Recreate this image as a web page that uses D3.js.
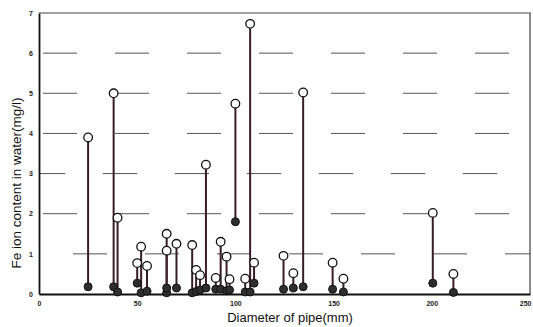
<!DOCTYPE html>
<html>
<head>
<meta charset="utf-8">
<script src="https://cdn.jsdelivr.net/npm/d3@7"></script>
<style>
  body { margin: 0; background: #fff; }
  text { font-family: "Liberation Sans", Arial, sans-serif; }
</style>
</head>
<body>
<div id="chart"></div>
<script>
// pipe diameter (mm) and Fe ion content (mg/l): high = open circle, low = filled circle
const diameters = [25, 38, 40, 50, 52, 55, 65, 65, 70, 78, 80, 82, 85, 90, 92.5, 95.5, 97, 100, 105, 107.5, 109.5, 124.5, 129.5, 134.5, 149.5, 155, 200.5, 211];
const highValues = [3.9, 5.0, 1.9, 0.77, 1.18, 0.7, 1.5, 1.08, 1.25, 1.22, 0.6, 0.47, 3.22, 0.4, 1.3, 0.93, 0.37, 4.74, 0.38, 6.73, 0.78, 0.95, 0.52, 5.02, 0.78, 0.38, 2.02, 0.5];
const lowValues = [0.18, 0.18, 0.05, 0.27, 0.03, 0.07, 0.03, 0.15, 0.15, 0.03, 0.06, 0.1, 0.15, 0.12, 0.12, 0.08, 0.1, 1.8, 0.05, 0.05, 0.27, 0.12, 0.15, 0.18, 0.12, 0.05, 0.27, 0.04];
const xTicks = [0, 50, 100, 150, 200, 250];
const yTicks = [0, 1, 2, 3, 4, 5, 6, 7];

const margin = { top: 13, right: 2, bottom: 33, left: 39 },
  width = 533 - margin.left - margin.right,
  height = 327 - margin.top - margin.bottom;

const svg = d3
  .select("#chart")
  .append("svg")
  .attr("width", 533)
  .attr("height", 327);

const g = svg
  .append("g")
  .attr("transform", "translate(" + margin.left + "," + margin.top + ")");

const x = d3.scaleLinear().domain([0, 250]).range([0, width - 1]);
const y = d3.scaleLinear().domain([0, 7]).range([height, 0]);

// dashed grid lines
g.selectAll(".grid")
  .data(yTicks.filter((t) => t > 0 && t < 7))
  .enter()
  .append("line")
  .attr("class", "grid")
  .attr("x1", 0)
  .attr("x2", width)
  .attr("y1", (d) => y(d))
  .attr("y2", (d) => y(d))
  .attr("stroke", "#555")
  .attr("stroke-width", 1)
  .attr("stroke-dasharray", "34,38")
  .attr("stroke-dashoffset", (d) => (d === 1 ? 38 : d === 3 ? 8 : -4));

// frame
g.append("line")
  .attr("x1", 0).attr("x2", width)
  .attr("y1", 0).attr("y2", 0)
  .attr("stroke", "#444").attr("stroke-width", 1.2);
g.append("line")
  .attr("x1", width - 1).attr("x2", width - 1)
  .attr("y1", 0).attr("y2", height)
  .attr("stroke", "#666").attr("stroke-width", 1.5);

// axes
const xAxis = g
  .append("g")
  .attr("transform", "translate(0," + height + ")")
  .call(d3.axisBottom(x).tickValues(xTicks).tickFormat(d3.format("d")).tickSize(0).tickPadding(7));
const yAxis = g
  .append("g")
  .call(d3.axisLeft(y).tickValues(yTicks).tickFormat(d3.format("d")).tickSize(0).tickPadding(6));

[xAxis, yAxis].forEach((a) => {
  a.select(".domain").attr("stroke", "#111").attr("stroke-width", 1.8);
  a.selectAll("text")
    .attr("font-size", "7px")
    .attr("font-weight", "bold")
    .attr("fill", "#222");
});
// keep the last tick label inside the page
xAxis.selectAll(".tick text")
  .filter((d) => d === 250)
  .attr("text-anchor", "end")
  .attr("dx", "1px");

const rows = diameters.map((d, i) => ({ d: d, hi: highValues[i], lo: lowValues[i] }));

// stems
g.selectAll(".stem")
  .data(rows)
  .enter()
  .append("line")
  .attr("class", "stem")
  .attr("x1", (r) => x(r.d))
  .attr("x2", (r) => x(r.d))
  .attr("y1", (r) => y(r.lo))
  .attr("y2", (r) => y(r.hi))
  .attr("stroke", "#3a1c26")
  .attr("stroke-width", 2);

// low values
g.selectAll(".lo")
  .data(rows)
  .enter()
  .append("circle")
  .attr("class", "lo")
  .attr("cx", (r) => x(r.d))
  .attr("cy", (r) => y(r.lo))
  .attr("r", 4)
  .attr("fill", "#2e2e2e")
  .attr("stroke", "#111")
  .attr("stroke-width", 1);

// high values
g.selectAll(".hi")
  .data(rows)
  .enter()
  .append("circle")
  .attr("class", "hi")
  .attr("cx", (r) => x(r.d))
  .attr("cy", (r) => y(r.hi))
  .attr("r", 4.3)
  .attr("fill", "#fff")
  .attr("stroke", "#111")
  .attr("stroke-width", 1.3);

// axis titles
svg.append("text")
  .attr("x", 290)
  .attr("y", 322)
  .attr("text-anchor", "middle")
  .attr("font-size", "13px")
  .attr("fill", "#111")
  .text("Diameter of pipe(mm)");

svg.append("text")
  .attr("transform", "translate(21,183) rotate(-90)")
  .attr("text-anchor", "middle")
  .attr("font-size", "13.5px")
  .attr("fill", "#111")
  .text("Fe ion content in water(mg/l)");
</script>
</body>
</html>
